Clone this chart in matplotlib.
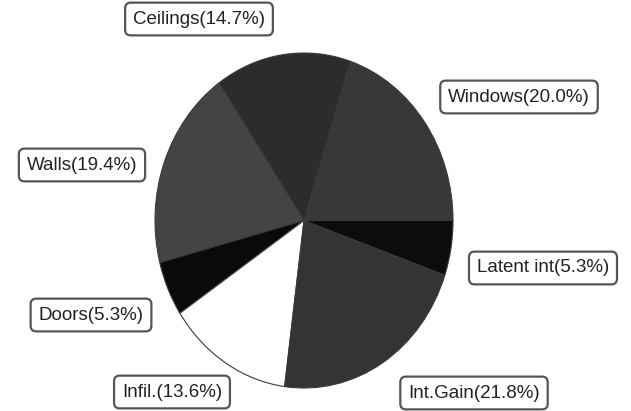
import matplotlib
matplotlib.use("Agg")
import matplotlib.pyplot as plt

labels = ["Windows", "Ceilings", "Walls", "Doors", "Infil.", "Int.Gain", "Latent int"]
values = [20.0, 14.7, 19.4, 5.3, 13.6, 21.8, 5.3]
label_texts = ["Windows(20.0%)", "Ceilings(14.7%)", "Walls(19.4%)", "Doors(5.3%)",
               "Infil.(13.6%)", "Int.Gain(21.8%)", "Latent int(5.3%)"]
colors = ["#383838", "#2c2c2c", "#444444", "#0a0a0a", "#ffffff", "#343434", "#0c0c0c"]
# label box centres in pixel coordinates (x from left, y from top)
label_pos = [(519, 97), (199, 19), (82, 165), (91, 315), (172, 392), (474, 393), (543, 268)]

W, H = 631, 411
fig = plt.figure(figsize=(W / 100, H / 100), dpi=100)
fig.patch.set_facecolor("white")

left, right, top, bottom = 155, 453, 53, 388
ax = fig.add_axes([left / W, (H - bottom) / H, (right - left) / W, (bottom - top) / H])
ax.pie(values, colors=colors, startangle=0, counterclock=True,
       wedgeprops=dict(edgecolor="#3a3a3a", linewidth=0.8))
ax.set_aspect("auto")
ax.set_xlim(-1.0, 1.0)
ax.set_ylim(-1.0, 1.0)
ax.axis("off")

for txt, (px, py) in zip(label_texts, label_pos):
    fig.text(px / W, 1 - py / H, txt, ha="center", va="center",
             fontsize=13.5, family="Liberation Sans", color="#222222",
             bbox=dict(boxstyle="round,pad=0.42,rounding_size=0.3",
                       facecolor="white", edgecolor="#555555", linewidth=1.6))

fig.savefig("out.png", dpi=100, facecolor="white")
